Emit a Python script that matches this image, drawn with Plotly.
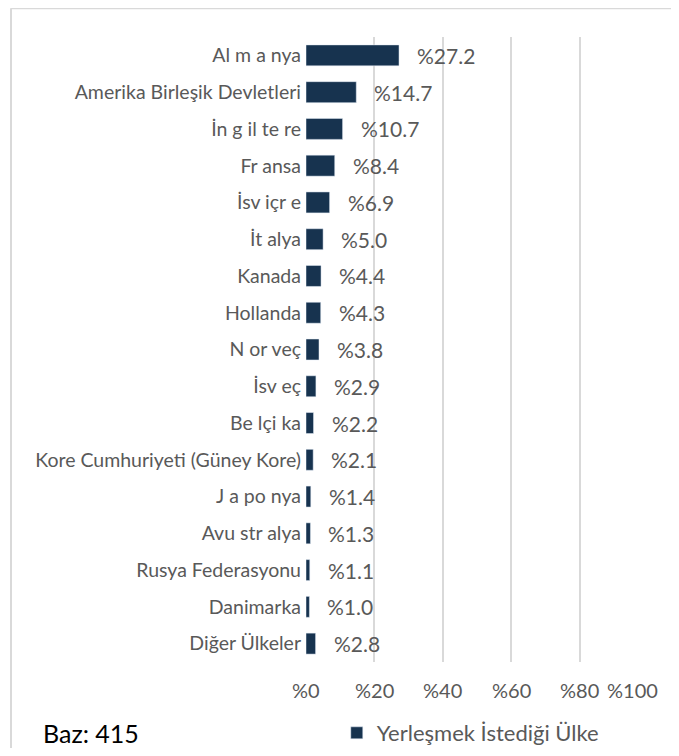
import plotly.graph_objects as go

# countries as they appear in the source chart (top to bottom)
countries = [
    "Al m a nya", "Amerika Birleşik Devletleri", "İn g il te re", "Fr ansa",
    "İsv içr e", "İt alya", "Kanada", "Hollanda", "N or veç", "İsv eç",
    "Be lçi ka", "Kore Cumhuriyeti (Güney Kore)", "J a po nya", "Avu str alya",
    "Rusya Federasyonu", "Danimarka", "Diğer Ülkeler",
]
shares = [27.2, 14.7, 10.7, 8.4, 6.9, 5.0, 4.4, 4.3, 3.8, 2.9,
          2.2, 2.1, 1.4, 1.3, 1.1, 1.0, 2.8]
tick_vals = [0, 20, 40, 60, 80, 100]
tick_text = ["%0", "%20", "%40", "%60", "%80", "%100"]

navy = "#17334f"
gray_txt = "#595959"
font = "Lato, 'Open Sans', sans-serif"

fig = go.Figure()
fig.add_trace(go.Bar(
    x=shares,
    y=countries,
    orientation="h",
    width=0.57,
    marker=dict(color=navy),
    name="Yerleşmek İstediği Ülke",
    showlegend=True,
))

# value labels, right of each bar
for c, v in zip(countries, shares):
    fig.add_annotation(
        x=v, y=c, text=f"%{v:.1f}", showarrow=False,
        xanchor="left", xshift=16,
        font=dict(size=21, color=gray_txt, family=font),
    )

# x tick labels (last one pulled inside like the original)
for i, (tv, tt) in enumerate(zip(tick_vals, tick_text)):
    last = i == len(tick_vals) - 1
    fig.add_annotation(
        x=tv, xref="x", yref="paper", y=-0.045, text=tt, showarrow=False,
        xanchor="right" if last else "center", yanchor="middle",
        xshift=12 if last else 0,
        font=dict(size=20, color=gray_txt, family=font),
    )

fig.add_annotation(
    xref="paper", yref="paper", x=-0.775, y=-0.1136,
    xanchor="left", yanchor="middle", text="Baz: 415", showarrow=False,
    font=dict(size=25, color="#000000", family=font),
)

# outer chart frame (only top and left edges are inside the picture)
frame = dict(color="#d9d9d9", width=2)
fig.add_shape(type="line", xref="paper", yref="paper",
              x0=-0.8626, x1=1.2, y0=1.046, y1=1.046, line=frame)
fig.add_shape(type="line", xref="paper", yref="paper",
              x0=-0.8626, x1=-0.8626, y0=-0.3, y1=1.046, line=frame)

# page body adds an 8px margin all round, so the figure is drawn smaller
fig.update_layout(
    width=663, height=740,
    margin=dict(l=298, r=23, t=29, b=86, autoexpand=False),
    plot_bgcolor="white", paper_bgcolor="white",
    font=dict(family=font, size=16, color=gray_txt),
    bargap=0.43,
    legend=dict(
        orientation="h", x=0.09, y=-0.1136, xanchor="left", yanchor="middle",
        font=dict(size=22, color=gray_txt, family=font),
        itemwidth=30,
    ),
    xaxis=dict(
        range=[0, 100], tickvals=tick_vals, showticklabels=False,
        showgrid=True, gridcolor="#d9d9d9", gridwidth=1.5,
        zeroline=False, showline=False, fixedrange=True, automargin=False,
    ),
    yaxis=dict(
        autorange="reversed", showgrid=False, zeroline=False,
        showline=False, ticks="", ticklabelstandoff=4, automargin=False,
        tickfont=dict(size=19.5, color=gray_txt, family=font),
    ),
)

fig.write_html("out.html")
